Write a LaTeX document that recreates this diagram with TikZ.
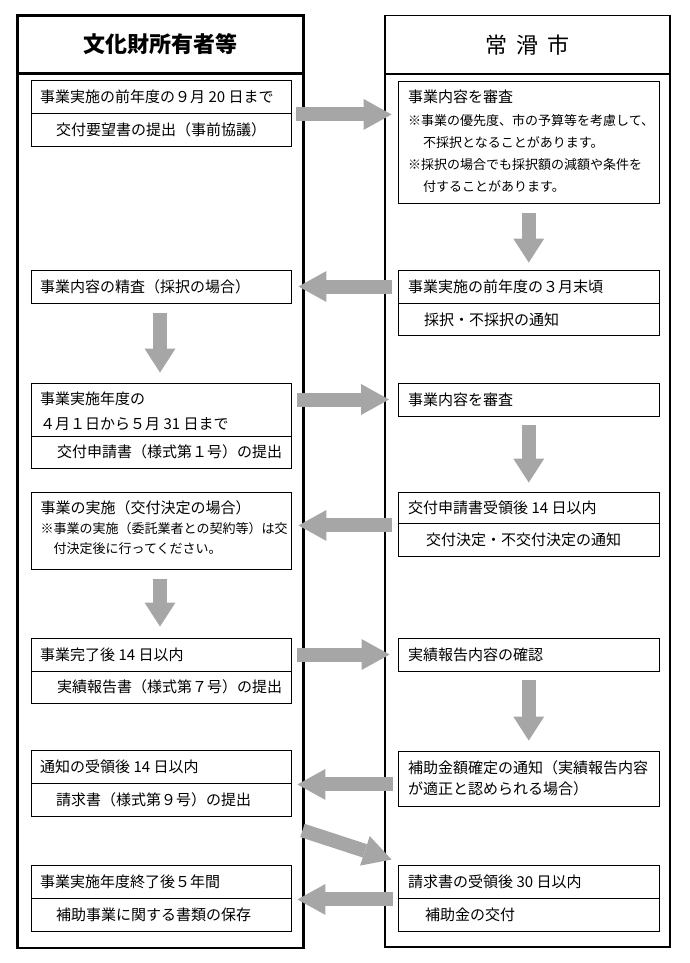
\documentclass[tikz,border=0pt]{standalone}
\usepackage{fontspec}
\newfontfamily\jp{Noto Sans CJK JP}
\usetikzlibrary{arrows.meta,calc,fit}
\definecolor{agray}{RGB}{166,166,166}
\begin{document}
\begin{tikzpicture}[x=1pt,y=-1pt,
  box/.style={draw=black, line width=0.9pt, inner sep=0pt},
  t/.style={anchor=west, inner sep=0pt, font=\jp\fontsize{15}{18}\selectfont},
  nt/.style={anchor=west, inner sep=0pt, font=\jp\fontsize{13}{15}\selectfont},
  hdr/.style={inner sep=0pt, font=\jp\fontsize{22}{26}\selectfont},
  garrow/.style={agray, line width=14pt, -{Triangle[width=31pt,length=#1,line width=0pt]}},
  garrow/.default=28pt]
\useasboundingbox (0,0) rectangle (690,963);

% frames
\node[box, line width=2.8pt, fit={(17.5,15.3) (303.5,73.5)}] (LH) {};
\node[box, line width=2.8pt, fit={(17.5,73.5) (303.5,948)}] (LB) {};
\node[box, line width=1.5pt, fit={(385,15.3) (670,74)}] (RH) {};
\node[box, line width=1.5pt, fit={(385,74) (670,947)}] (RB) {};
\node[hdr, font=\jp\bfseries\fontsize{22}{26}\selectfont] (LHT) at (LH.center) {文化財所有者等};
\node[hdr] (RHT) at (RH.center) {常\hspace{9pt}滑\hspace{9pt}市};

% left boxes
\node[box, fit={(31.5,80.7) (291.5,113)}] (L1a) {};
\node[box, fit={(31.5,113) (291.5,146)}] (L1b) {};
\node[box, fit={(31.5,270) (291.5,303)}] (L2) {};
\node[box, fit={(31.5,383) (291.5,436)}] (L3a) {};
\node[box, fit={(31.5,436) (291.5,468)}] (L3b) {};
\node[box, fit={(31.5,492) (291.5,569)}] (L4) {};
\node[box, fit={(31.5,638) (291.5,671)}] (L5a) {};
\node[box, fit={(31.5,671) (291.5,703)}] (L5b) {};
\node[box, fit={(31.5,750) (291.5,783)}] (L6a) {};
\node[box, fit={(31.5,783) (291.5,816)}] (L6b) {};
\node[box, fit={(31.5,865) (291.5,898)}] (L7a) {};
\node[box, fit={(31.5,898) (291.5,931)}] (L7b) {};

% right boxes
\node[box, fit={(398.5,81) (659,203)}] (R1) {};
\node[box, fit={(398.5,270) (659,303)}] (R2a) {};
\node[box, fit={(398.5,303) (659,335)}] (R2b) {};
\node[box, fit={(398.5,383) (659,416)}] (R3) {};
\node[box, fit={(398.5,492) (659,523)}] (R4a) {};
\node[box, fit={(398.5,523) (659,556)}] (R4b) {};
\node[box, fit={(398.5,638) (659,671)}] (R5) {};
\node[box, fit={(398.5,751) (659,806)}] (R6) {};
\node[box, fit={(398.5,865) (659,898)}] (R7a) {};
\node[box, fit={(398.5,898) (659,931)}] (R7b) {};

% left texts
\node[t] (tL1a) at (40,97) {事業実施の前年度の９月 20 日まで};
\node[t] (tL1b) at (56,129.5) {交付要望書の提出（事前協議）};
\node[t] (tL2) at (40,286.5) {事業内容の精査（採択の場合）};
\node[t] (tL3a) at (40,399) {事業実施年度の};
\node[t] (tL3b) at (40,424) {４月１日から５月 31 日まで};
\node[t] (tL3c) at (57,452) {交付申請書（様式第１号）の提出};
\node[t] (tL4a) at (40.5,508) {事業の実施（交付決定の場合）};
\node[nt] (tL4b) at (40.5,528.5) {※事業の実施（委託業者との契約等）は交};
\node[nt] (tL4c) at (53.5,548.5) {付決定後に行ってください。};
\node[t] (tL5a) at (40,654.5) {事業完了後 14 日以内};
\node[t] (tL5b) at (57,687) {実績報告書（様式第７号）の提出};
\node[t] (tL6a) at (40,766.5) {通知の受領後 14 日以内};
\node[t] (tL6b) at (56,799.5) {請求書（様式第９号）の提出};
\node[t] (tL7a) at (40,881.5) {事業実施年度終了後５年間};
\node[t] (tL7b) at (56,914.5) {補助事業に関する書類の保存};

% right texts
\node[t] (tR1a) at (408,97) {事業内容を審査};
\node[nt] (tR1b) at (408,121) {※事業の優先度、市の予算等を考慮して、};
\node[nt] (tR1c) at (423,142.5) {不採択となることがあります。};
\node[nt] (tR1d) at (408,165) {※採択の場合でも採択額の減額や条件を};
\node[nt] (tR1e) at (423,186.5) {付することがあります。};
\node[t] (tR2a) at (408,286.5) {事業実施の前年度の３月末頃};
\node[t] (tR2b) at (424,319.5) {採択・不採択の通知};
\node[t] (tR3) at (408,399.5) {事業内容を審査};
\node[t] (tR4a) at (408,507.5) {交付申請書受領後 14 日以内};
\node[t] (tR4b) at (426,539.5) {交付決定・不交付決定の通知};
\node[t] (tR5) at (408,654.5) {実績報告内容の確認};
\node[t] (tR6a) at (408,768) {補助金額確定の通知（実績報告内容};
\node[t] (tR6b) at (408,789) {が適正と認められる場合）};
\node[t] (tR7a) at (408,881.5) {請求書の受領後 30 日以内};
\node[t] (tR7b) at (425,914.5) {補助金の交付};

% horizontal arrows
\draw[garrow] ($(L1a.south east)+(4.5,1)$) -- ($(R1.west |- L1a.south east)+(-6.5,1)$);
\draw[garrow] ($(R2a.east -| R2a.west)+(-6.5,0)$) -- ($(L2.east)+(6.5,0)$);
\draw[garrow] ($(L3a.east)+(5.5,-10)$) -- ($(R3.west)+(-9,0)$);
\draw[garrow] ($(R4a.south west)+(-6.5,2)$) -- ($(L4.east |- R4a.south west)+(6.5,2)$);
\draw[garrow] ($(L5a.east)+(5.5,0)$) -- ($(R5.west)+(-8.5,0)$);
\draw[garrow] ($(R6.west |- L6a.south east)+(-5.5,1)$) -- ($(L6a.south east)+(5.5,1)$);
\draw[garrow] ($(R7a.south west)+(-5.5,1)$) -- ($(L7a.south east)+(5.5,1)$);
% diagonal arrow
\draw[garrow] ($(L6b.south east)+(10.5,14)$) -- ($(R7a.north west)+(-6.5,-5)$);

% vertical arrows
\draw[garrow=24pt] ($(R1.south)+(0,10)$) -- ($(R2a.north)+(0,-7)$);
\draw[garrow=24pt] ($(L2.south)+(-1.5,10)$) -- ($(L3a.north)+(-1.5,-10)$);
\draw[garrow=24pt] ($(R3.south)+(0,9)$) -- ($(R4a.north)+(0,-9)$);
\draw[garrow=24pt] ($(L4.south)+(-1.5,10)$) -- ($(L5a.north)+(-1.5,-11)$);
\draw[garrow=24pt] ($(R5.south)+(0,9)$) -- ($(R6.north)+(0,-10)$);
\end{tikzpicture}
\end{document}
